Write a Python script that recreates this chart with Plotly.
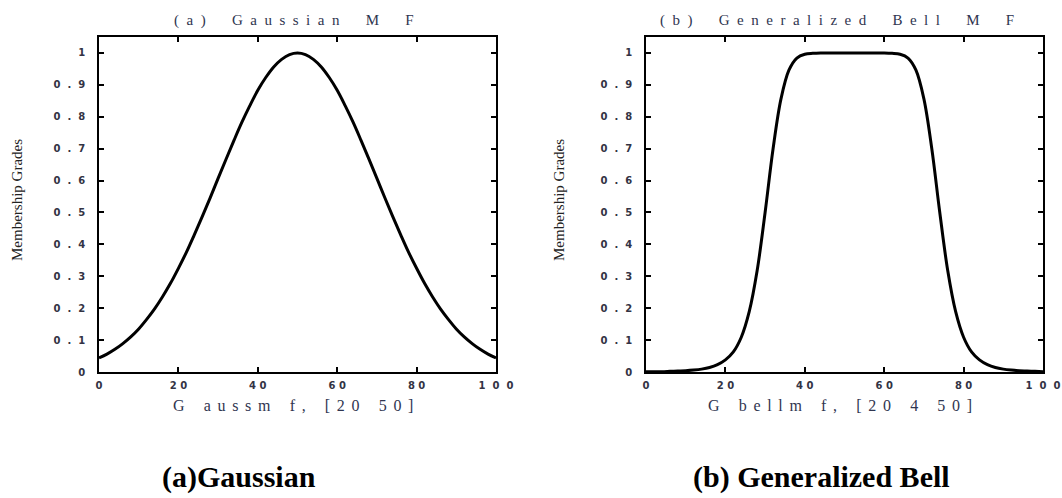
import plotly.graph_objects as go

# Sample points along the universe of discourse
x_vals = list(range(0, 101, 2))

# Gaussian MF, gaussmf [20 50]
gauss_vals = [
    0.044, 0.056, 0.071, 0.089, 0.110, 0.135, 0.165, 0.198, 0.236, 0.278,
    0.325, 0.375, 0.430, 0.487, 0.546, 0.607, 0.667, 0.726, 0.783, 0.835,
    0.883, 0.923, 0.956, 0.980, 0.995, 1.000, 0.995, 0.980, 0.956, 0.923,
    0.883, 0.835, 0.783, 0.726, 0.667, 0.607, 0.546, 0.487, 0.430, 0.375,
    0.325, 0.278, 0.236, 0.198, 0.165, 0.135, 0.110, 0.089, 0.071, 0.056,
    0.044,
]

# Generalized bell MF, gbellmf [20 4 50]
gbell_vals = [
    0.001, 0.001, 0.001, 0.002, 0.003, 0.004, 0.006, 0.009, 0.014, 0.023,
    0.038, 0.063, 0.109, 0.189, 0.318, 0.500, 0.699, 0.856, 0.946, 0.984,
    0.996, 0.999, 1.000, 1.000, 1.000, 1.000, 1.000, 1.000, 1.000, 1.000,
    1.000, 0.999, 0.996, 0.984, 0.946, 0.856, 0.699, 0.500, 0.318, 0.189,
    0.109, 0.063, 0.038, 0.023, 0.014, 0.009, 0.006, 0.004, 0.003, 0.002,
    0.001,
]

NB = "\u00a0"
x_tickvals = [0, 20, 40, 60, 80, 100]
x_ticktext = ["0", "2" + NB + "0", "4" + NB + "0", "6" + NB + "0", "8" + NB + "0",
              "1" + NB * 2 + "0" + NB * 2 + "0"]
y_tickvals = [0, 0.1, 0.2, 0.3, 0.4, 0.5, 0.6, 0.7, 0.8, 0.9, 1.0]
y_ticktext = ["0"] + [("0" + NB * 2 + "." + NB * 2 + str(d)) for d in range(1, 10)] + ["1"]

panel_titles = [
    [["(", "a", ")"], ["Gaussian"], ["M"], ["F"]],
    [["(", "b", ")"], ["Generalized"], ["Bell"], ["M"], ["F"]],
]
x_titles = [
    [["G"], ["aussm"], ["f,"], ["[20"], ["50]"]],
    [["G"], ["bellm"], ["f,"], ["[20"], ["4"], ["50]"]],
]
y_title = "Membership Grades"
captions = ["(a)Gaussian", "(b) Generalized Bell"]


def spread(groups, letter_gap, word_gap):
    """Letter-spaced text: every glyph separated, words separated wider."""
    words = []
    for g in groups:
        glyphs = [c for part in g for c in part]
        words.append(letter_gap.join(glyphs))
    return word_gap.join(words)


W, H = 1062, 498


def fx(px):
    return px / W


def fy(py):
    return (H - py) / H


left_dom = [fx(99), fx(496)]
right_dom = [fx(646), fx(1043)]
y_dom = [fy(372), fy(37)]

fig = go.Figure()
fig.add_trace(go.Scatter(x=x_vals, y=gauss_vals, mode="lines",
                         line=dict(color="black", width=3, shape="spline"),
                         xaxis="x", yaxis="y", showlegend=False))
fig.add_trace(go.Scatter(x=x_vals, y=gbell_vals, mode="lines",
                         line=dict(color="black", width=3, shape="spline"),
                         xaxis="x2", yaxis="y2", showlegend=False))

tick_font = dict(family="DejaVu Sans", size=10, color="#333344", weight="bold")
text_color = "#2f3550"


def x_axis(domain, anchor):
    return dict(domain=domain, anchor=anchor, range=[0, 100], automargin=False,
                tickvals=x_tickvals, ticktext=x_ticktext, tickfont=tick_font,
                ticks="inside", ticklen=5, tickwidth=1.5, tickcolor="black",
                ticklabelstandoff=3,
                showline=True, linecolor="black", linewidth=1.5, mirror="ticks",
                showgrid=False, zeroline=False)


def y_axis(domain, anchor):
    return dict(domain=domain, anchor=anchor, range=[0, 1.05], automargin=False,
                tickvals=y_tickvals, ticktext=y_ticktext, tickfont=tick_font,
                ticks="inside", ticklen=5, tickwidth=1.5, tickcolor="black",
                ticklabelstandoff=10,
                showline=True, linecolor="black", linewidth=1.5, mirror="ticks",
                showgrid=False, zeroline=False)


annotations = []
for cx, t in zip([294, 837], panel_titles):
    annotations.append(dict(text=spread(t, "\u2002", "\u2003\u2002\u00a0"),
                            xref="paper", yref="paper",
                            x=fx(cx), y=fy(20),
                            xanchor="center", yanchor="middle", showarrow=False,
                            font=dict(family="Liberation Serif", size=15, color=text_color)))
for cx, t in zip([293, 840], x_titles):
    annotations.append(dict(text=spread(t, "\u2004\u200a", "\u2003\u2009"),
                            xref="paper", yref="paper",
                            x=fx(cx), y=fy(405),
                            xanchor="center", yanchor="middle", showarrow=False,
                            font=dict(family="Liberation Serif", size=16, color=text_color)))
for cx in [17, 559]:
    annotations.append(dict(text=y_title, xref="paper", yref="paper",
                            x=fx(cx), y=fy(200), textangle=-90,
                            xanchor="center", yanchor="middle", showarrow=False,
                            font=dict(family="Liberation Serif", size=15, color="#222222")))
for cx, t in zip([239, 821], captions):
    annotations.append(dict(text=t, xref="paper", yref="paper",
                            x=fx(cx), y=fy(496),
                            xanchor="center", yanchor="bottom", showarrow=False,
                            font=dict(family="Liberation Serif", size=30, color="black",
                                      weight="bold")))

fig.update_layout(
    template="none",
    width=W, height=H,
    margin=dict(l=0, r=0, t=0, b=0, autoexpand=False),
    paper_bgcolor="white", plot_bgcolor="white",
    xaxis=x_axis(left_dom, "y"),
    yaxis=y_axis(y_dom, "x"),
    xaxis2=x_axis(right_dom, "y2"),
    yaxis2=y_axis(y_dom, "x2"),
    annotations=annotations,
)

fig.write_html("out.html")
